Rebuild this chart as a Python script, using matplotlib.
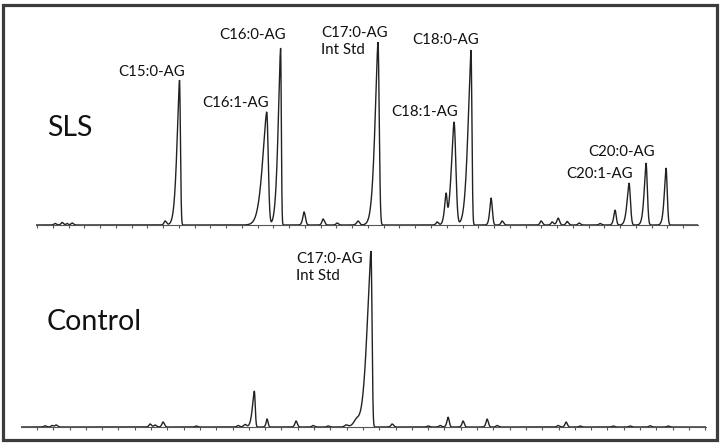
import numpy as np
import matplotlib
matplotlib.use("Agg")
import matplotlib.pyplot as plt
from matplotlib.patches import Rectangle

plt.rcParams['font.family'] = ['Lato', 'DejaVu Sans']

# ---------------- data (scan number, intensity in arbitrary units) ----------------
# SLS chromatogram peaks: retention (scan), apex height, fronting width, tailing width
sls_rt     = [55, 62, 67, 72, 165, 179.5, 266.7, 280.6, 304, 323, 337, 358, 378,
              437, 446, 454, 471, 491, 502, 541, 552, 558, 567, 579, 600, 615, 629, 646, 666]
sls_height = [1.5, 2.5, 1.5, 2, 4, 145, 113, 177, 13, 6, 2, 4, 183,
              3, 27, 103, 175, 27, 4, 4, 3, 7, 3.5, 2, 1.5, 15, 42, 62, 57]
sls_front  = [1.5, 1.5, 1.2, 1.5, 1.5, 3.6, 6.0, 3.5, 1.8, 1.5, 1.5, 2.0, 4.3,
              1.5, 2.2, 3.8, 4.3, 1.8, 1.5, 1.5, 1.5, 1.8, 1.5, 1.5, 1.5, 1.8, 2.8, 2.6, 2.4]
sls_tail   = [1.5, 1.5, 1.2, 1.5, 1.5, 0.9, 1.5, 0.7, 1.4, 1.5, 1.5, 1.5, 1.2,
              1.5, 1.0, 1.8, 0.9, 1.3, 1.5, 1.5, 1.5, 1.5, 1.5, 1.5, 1.5, 1.2, 1.4, 1.3, 1.2]

# Control chromatogram peaks
ctl_rt     = [45, 52, 56, 150, 155, 163, 196, 238, 245, 254.3, 267, 296, 313, 328, 346, 356,
              371, 392, 428, 440, 448, 463, 487, 497, 558, 566, 580, 613, 630, 650, 668]
ctl_height = [1.2, 1.5, 2, 3, 2, 5, 1, 1.5, 2.5, 36, 8, 6, 1.5, 1, 2, 6,
              176, 3, 1, 1.5, 10, 6, 8, 1.5, 1.5, 5, 1, 1, 1, 1.2, 1]
ctl_front  = [1.5, 1.5, 1.5, 1.5, 1.5, 1.6, 1.5, 1.5, 2.0, 2.7, 1.3, 1.6, 1.5, 1.5, 2.0, 4.0,
              5.7, 1.5, 1.5, 1.5, 1.6, 1.5, 1.5, 1.5, 1.5, 1.5, 1.5, 1.5, 1.5, 1.5, 1.5]
ctl_tail   = [1.5, 1.5, 1.5, 1.5, 1.5, 1.4, 1.5, 1.5, 1.5, 0.9, 1.0, 1.3, 1.5, 1.5, 2.0, 3.0,
              1.0, 1.5, 1.5, 1.5, 1.2, 1.2, 1.3, 1.5, 1.5, 1.3, 1.5, 1.5, 1.5, 1.5, 1.5]

sls_labels = ["C15:0-AG", "C16:1-AG", "C16:0-AG", "C17:0-AG\nInt Std",
              "C18:1-AG", "C18:0-AG", "C20:1-AG", "C20:0-AG"]
ctl_labels = ["C17:0-AG\nInt Std"]
panel_names = ["SLS", "Control"]

# scan ranges and tick spacing of each trace
sls_range, sls_tick0, sls_tickstep, n_ticks = (36, 698), 37, 15.76, 42
ctl_range, ctl_tick0, ctl_tickstep = (21, 706), 37, 16.3


def chromatogram(x, rt, h, wl, wr):
    y = np.zeros_like(x)
    for p, a, sl, sr in zip(rt, h, wl, wr):
        d = x - p
        left = np.exp(-(np.abs(d) / sl) ** 1.5)
        right = np.exp(-0.5 * (d / sr) ** 2)
        y += a * np.where(d < 0, left, right)
    return y


W, H = 721, 444
fig = plt.figure(figsize=(W / 100, H / 100), dpi=100)
fig.patch.set_facecolor('white')


def make_ax(x0, x1, ybase, ytop):
    ax = fig.add_axes([x0 / W, 1 - ybase / H, (x1 - x0) / W, (ybase - ytop) / H])
    ax.set_xlim(x0, x1)
    ax.set_ylim(0, ybase - ytop)
    ax.patch.set_visible(False)
    for s in ['left', 'right', 'top']:
        ax.spines[s].set_visible(False)
    ax.spines['bottom'].set_color('#555555')
    ax.spines['bottom'].set_linewidth(0.8)
    ax.set_yticks([])
    ax.tick_params(axis='x', direction='out', length=2.3, width=0.8,
                   color='#555555', labelbottom=False)
    return ax


trace_kw = dict(color='#222222', lw=1.0, solid_joinstyle='miter')
txt_kw = dict(fontsize=10.8, color='#111111')

# ---- SLS panel ----
ax1 = make_ax(sls_range[0], sls_range[1], 225, 15)
x1 = np.linspace(sls_range[0], sls_range[1], 6000)
ax1.plot(x1, chromatogram(x1, sls_rt, sls_height, sls_front, sls_tail), **trace_kw)
ax1.set_xticks(sls_tick0 + sls_tickstep * np.arange(n_ticks))

base1 = 225
lab_pos1 = [(152, 72, 'center'), (236, 103, 'center'), (253, 35, 'center'),
            (321, 41.5, 'left'), (425, 112, 'center'), (446, 40, 'center'),
            (600, 174, 'center'), (622, 152, 'center')]
for lab, (lx, ly, ha) in zip(sls_labels, lab_pos1):
    ax1.text(lx, base1 - ly, lab, ha=ha, va='center', multialignment='left',
             linespacing=1.35, **txt_kw)
ax1.text(47, base1 - 128, panel_names[0], ha='left', va='center',
         fontsize=20.5, color='#111111')

# ---- Control panel ----
ax2 = make_ax(ctl_range[0], ctl_range[1], 427, 240)
x2 = np.linspace(ctl_range[0], ctl_range[1], 6000)
ax2.plot(x2, chromatogram(x2, ctl_rt, ctl_height, ctl_front, ctl_tail), **trace_kw)
ax2.set_xticks(ctl_tick0 + ctl_tickstep * np.arange(n_ticks))

base2 = 427
ax2.text(296, base2 - 267.5, ctl_labels[0], ha='left', va='center',
         multialignment='left', linespacing=1.35, **txt_kw)
ax2.text(47, base2 - 322, panel_names[1], ha='left', va='center',
         fontsize=20.5, color='#111111')

# outer frame
fig.patches.append(Rectangle((3.5 / W, 1 - 439.5 / H), 713.5 / W, 434 / H,
                             transform=fig.transFigure, fill=False,
                             edgecolor='#3c3c3c', linewidth=2.3))

fig.savefig('out.png', dpi=100)
